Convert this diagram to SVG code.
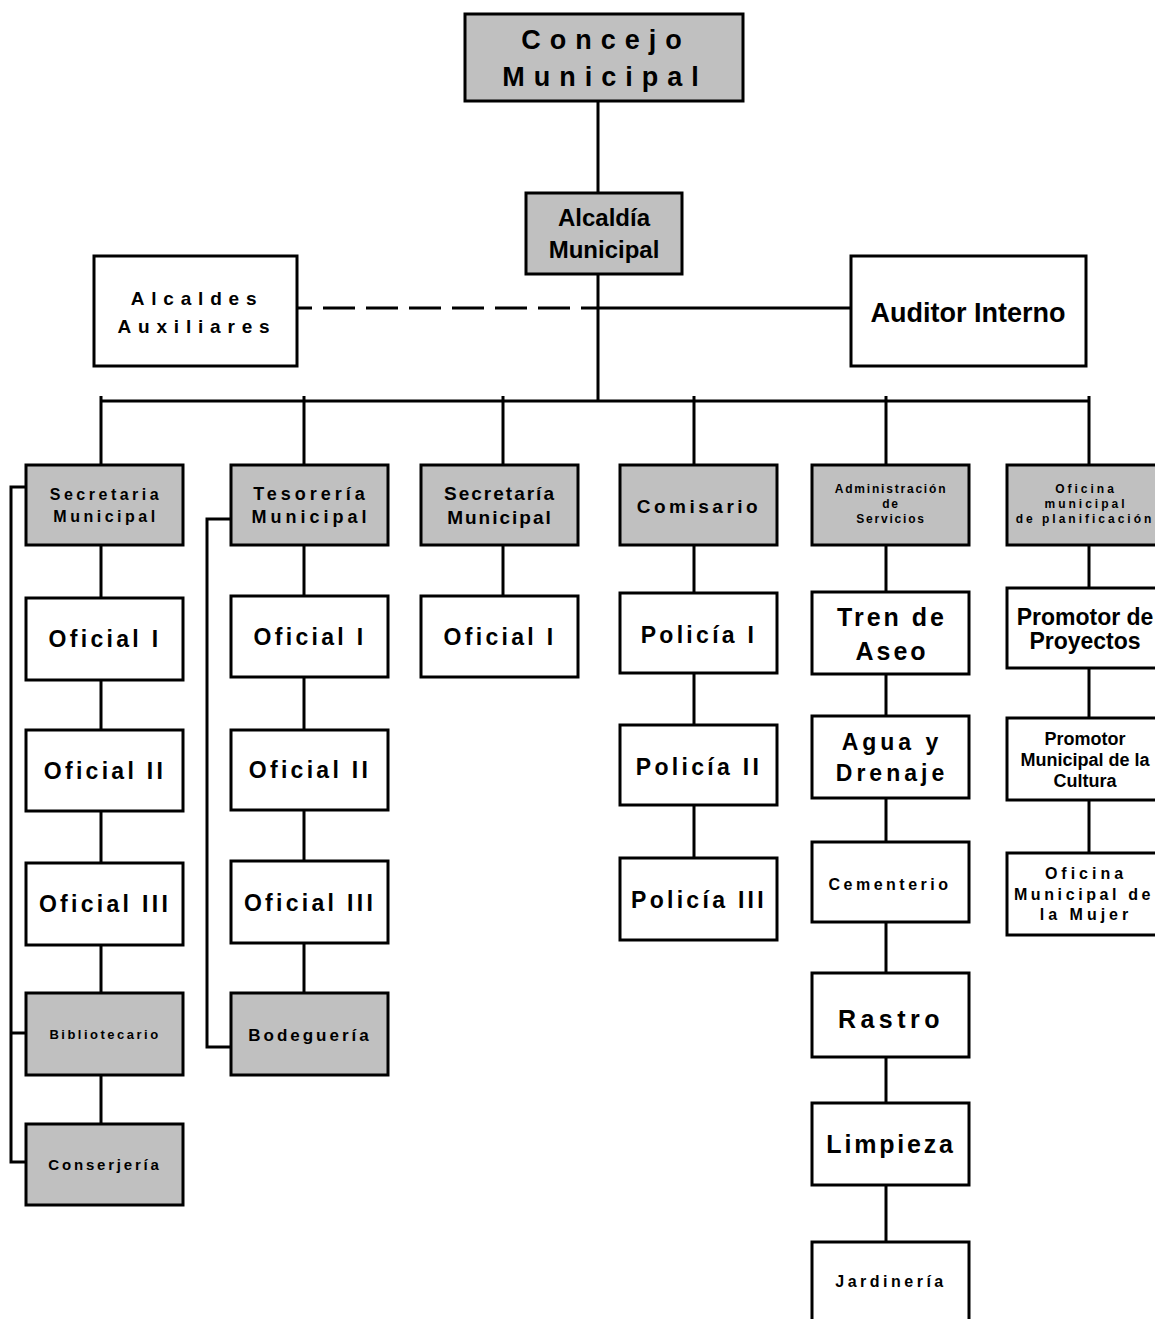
<svg xmlns="http://www.w3.org/2000/svg" width="1155" height="1319" viewBox="0 0 1155 1319">
<style>
.g{fill:#c0c0c0;stroke:#000;stroke-width:3}
.w{fill:#fff;stroke:#000;stroke-width:3}
.ln{fill:none;stroke:#000;stroke-width:3}
text{font-family:"Liberation Sans",Arial,sans-serif;font-weight:bold;fill:#000;text-anchor:middle}
.big{font-size:23px;letter-spacing:3.3px}
.s16{font-size:16px;letter-spacing:3.5px}
</style>
<rect width="1155" height="1319" fill="#fff"/>
<g id="connectors">
<line class="ln" x1="598" y1="101" x2="598" y2="401"/>
<line class="ln" x1="297" y1="308" x2="598" y2="308" stroke-dasharray="32 11" stroke-dashoffset="17"/>
<line class="ln" x1="598" y1="308" x2="851" y2="308"/>
<line class="ln" x1="100" y1="401" x2="1090" y2="401"/>
<line class="ln" x1="101" y1="396" x2="101" y2="1124"/>
<line class="ln" x1="304" y1="396" x2="304" y2="993"/>
<line class="ln" x1="503" y1="396" x2="503" y2="596"/>
<line class="ln" x1="694" y1="396" x2="694" y2="858"/>
<line class="ln" x1="886" y1="396" x2="886" y2="1242"/>
<line class="ln" x1="1089" y1="396" x2="1089" y2="853"/>
<polyline class="ln" points="26,487 11,487 11,1162 26,1162"/>
<line class="ln" x1="11" y1="1033" x2="26" y2="1033"/>
<polyline class="ln" points="231,519 207,519 207,1047 231,1047"/>
</g>
<g id="concejo"><rect class="g" x="465" y="14" width="278" height="87"/><text x="606" y="49" style="font-size:27px;letter-spacing:9px">Concejo</text><text x="605" y="86" style="font-size:27px;letter-spacing:9px">Municipal</text></g>
<g id="alcaldia"><rect class="g" x="526" y="193" width="156" height="81"/><text x="604" y="226" style="font-size:24px">Alcaldía</text><text x="604" y="258" style="font-size:24px">Municipal</text></g>
<g id="alcaldes"><rect class="w" x="94" y="256" width="203" height="110"/><text x="197" y="305" style="font-size:19px;letter-spacing:6.8px">Alcaldes</text><text x="197" y="333" style="font-size:19px;letter-spacing:6.8px">Auxiliares</text></g>
<g id="auditor"><rect class="w" x="851" y="256" width="235" height="110"/><text x="968" y="322" style="font-size:27px">Auditor Interno</text></g>

<g id="secretaria1"><rect class="g" x="26" y="465" width="157" height="80"/><text x="106" y="500" class="s16">Secretaria</text><text x="106" y="522" class="s16">Municipal</text></g>
<g id="oficial1a"><rect class="w" x="26" y="598" width="157" height="82"/><text x="105" y="647" class="big">Oficial I</text></g>
<g id="oficial2a"><rect class="w" x="26" y="730" width="157" height="81"/><text x="105" y="779" class="big">Oficial II</text></g>
<g id="oficial3a"><rect class="w" x="26" y="863" width="157" height="82"/><text x="105" y="912" class="big">Oficial III</text></g>
<g id="bibliotecario"><rect class="g" x="26" y="993" width="157" height="82"/><text x="105" y="1039" style="font-size:13px;letter-spacing:2.5px">Bibliotecario</text></g>
<g id="conserjeria"><rect class="g" x="26" y="1124" width="157" height="81"/><text x="105" y="1170" style="font-size:15px;letter-spacing:2.8px">Conserjería</text></g>

<g id="tesoreria"><rect class="g" x="231" y="465" width="157" height="80"/><text x="311" y="500" style="font-size:18px;letter-spacing:4px">Tesorería</text><text x="311" y="523" style="font-size:18px;letter-spacing:4px">Municipal</text></g>
<g id="oficial1b"><rect class="w" x="231" y="596" width="157" height="81"/><text x="310" y="645" class="big">Oficial I</text></g>
<g id="oficial2b"><rect class="w" x="231" y="730" width="157" height="80"/><text x="310" y="778" class="big">Oficial II</text></g>
<g id="oficial3b"><rect class="w" x="231" y="861" width="157" height="82"/><text x="310" y="911" class="big">Oficial III</text></g>
<g id="bodegueria"><rect class="g" x="231" y="993" width="157" height="82"/><text x="310" y="1041" style="font-size:17px;letter-spacing:3px">Bodeguería</text></g>

<g id="secretaria2"><rect class="g" x="421" y="465" width="157" height="80"/><text x="500" y="500" style="font-size:19px;letter-spacing:2px">Secretaría</text><text x="500" y="524" style="font-size:19px;letter-spacing:2px">Municipal</text></g>
<g id="oficial1c"><rect class="w" x="421" y="596" width="157" height="81"/><text x="500" y="645" class="big">Oficial I</text></g>

<g id="comisario"><rect class="g" x="620" y="465" width="157" height="80"/><text x="699" y="513" style="font-size:19px;letter-spacing:3.5px">Comisario</text></g>
<g id="policia1"><rect class="w" x="620" y="593" width="157" height="80"/><text x="699" y="643" class="big">Policía I</text></g>
<g id="policia2"><rect class="w" x="620" y="725" width="157" height="80"/><text x="699" y="775" class="big">Policía II</text></g>
<g id="policia3"><rect class="w" x="620" y="858" width="157" height="82"/><text x="699" y="908" class="big">Policía III</text></g>

<g id="administracion"><rect class="g" x="812" y="465" width="157" height="80"/><text x="891" y="493" style="font-size:12px;letter-spacing:1.8px">Administración</text><text x="891" y="508" style="font-size:12px;letter-spacing:1.8px">de</text><text x="891" y="523" style="font-size:12px;letter-spacing:1.8px">Servicios</text></g>
<g id="tren"><rect class="w" x="812" y="592" width="157" height="82"/><text x="892" y="626" style="font-size:25px;letter-spacing:3px">Tren de</text><text x="892" y="660" style="font-size:25px;letter-spacing:3px">Aseo</text></g>
<g id="agua"><rect class="w" x="812" y="716" width="157" height="82"/><text x="892" y="750" style="font-size:23px;letter-spacing:4px">Agua y</text><text x="892" y="781" style="font-size:23px;letter-spacing:4px">Drenaje</text></g>
<g id="cementerio"><rect class="w" x="812" y="842" width="157" height="80"/><text x="890" y="890" class="s16">Cementerio</text></g>
<g id="rastro"><rect class="w" x="812" y="973" width="157" height="84"/><text x="891" y="1028" style="font-size:25px;letter-spacing:4.5px">Rastro</text></g>
<g id="limpieza"><rect class="w" x="812" y="1103" width="157" height="82"/><text x="891" y="1153" style="font-size:25px;letter-spacing:2.8px">Limpieza</text></g>
<g id="jardineria"><rect class="w" x="812" y="1242" width="157" height="100"/><text x="891" y="1287" class="s16">Jardinería</text></g>

<g id="planificacion"><rect class="g" x="1007" y="465" width="160" height="80"/><text x="1086" y="493" style="font-size:12px;letter-spacing:3px">Oficina</text><text x="1086" y="508" style="font-size:12px;letter-spacing:3px">municipal</text><text x="1085" y="523" style="font-size:12px;letter-spacing:3px">de planificación</text></g>
<g id="promotor"><rect class="w" x="1007" y="588" width="160" height="80"/><text x="1085" y="625" style="font-size:23px">Promotor de</text><text x="1085" y="649" style="font-size:23px">Proyectos</text></g>
<g id="cultura"><rect class="w" x="1007" y="718" width="160" height="82"/><text x="1085" y="745" style="font-size:18px">Promotor</text><text x="1085" y="766" style="font-size:18px">Municipal de la</text><text x="1085" y="787" style="font-size:18px">Cultura</text></g>
<g id="mujer"><rect class="w" x="1007" y="853" width="160" height="82"/><text x="1086" y="879" style="font-size:16px;letter-spacing:4px">Oficina</text><text x="1084" y="900" style="font-size:16px;letter-spacing:3.6px">Municipal de</text><text x="1086" y="920" style="font-size:16px;letter-spacing:4px">la Mujer</text></g>
</svg>
